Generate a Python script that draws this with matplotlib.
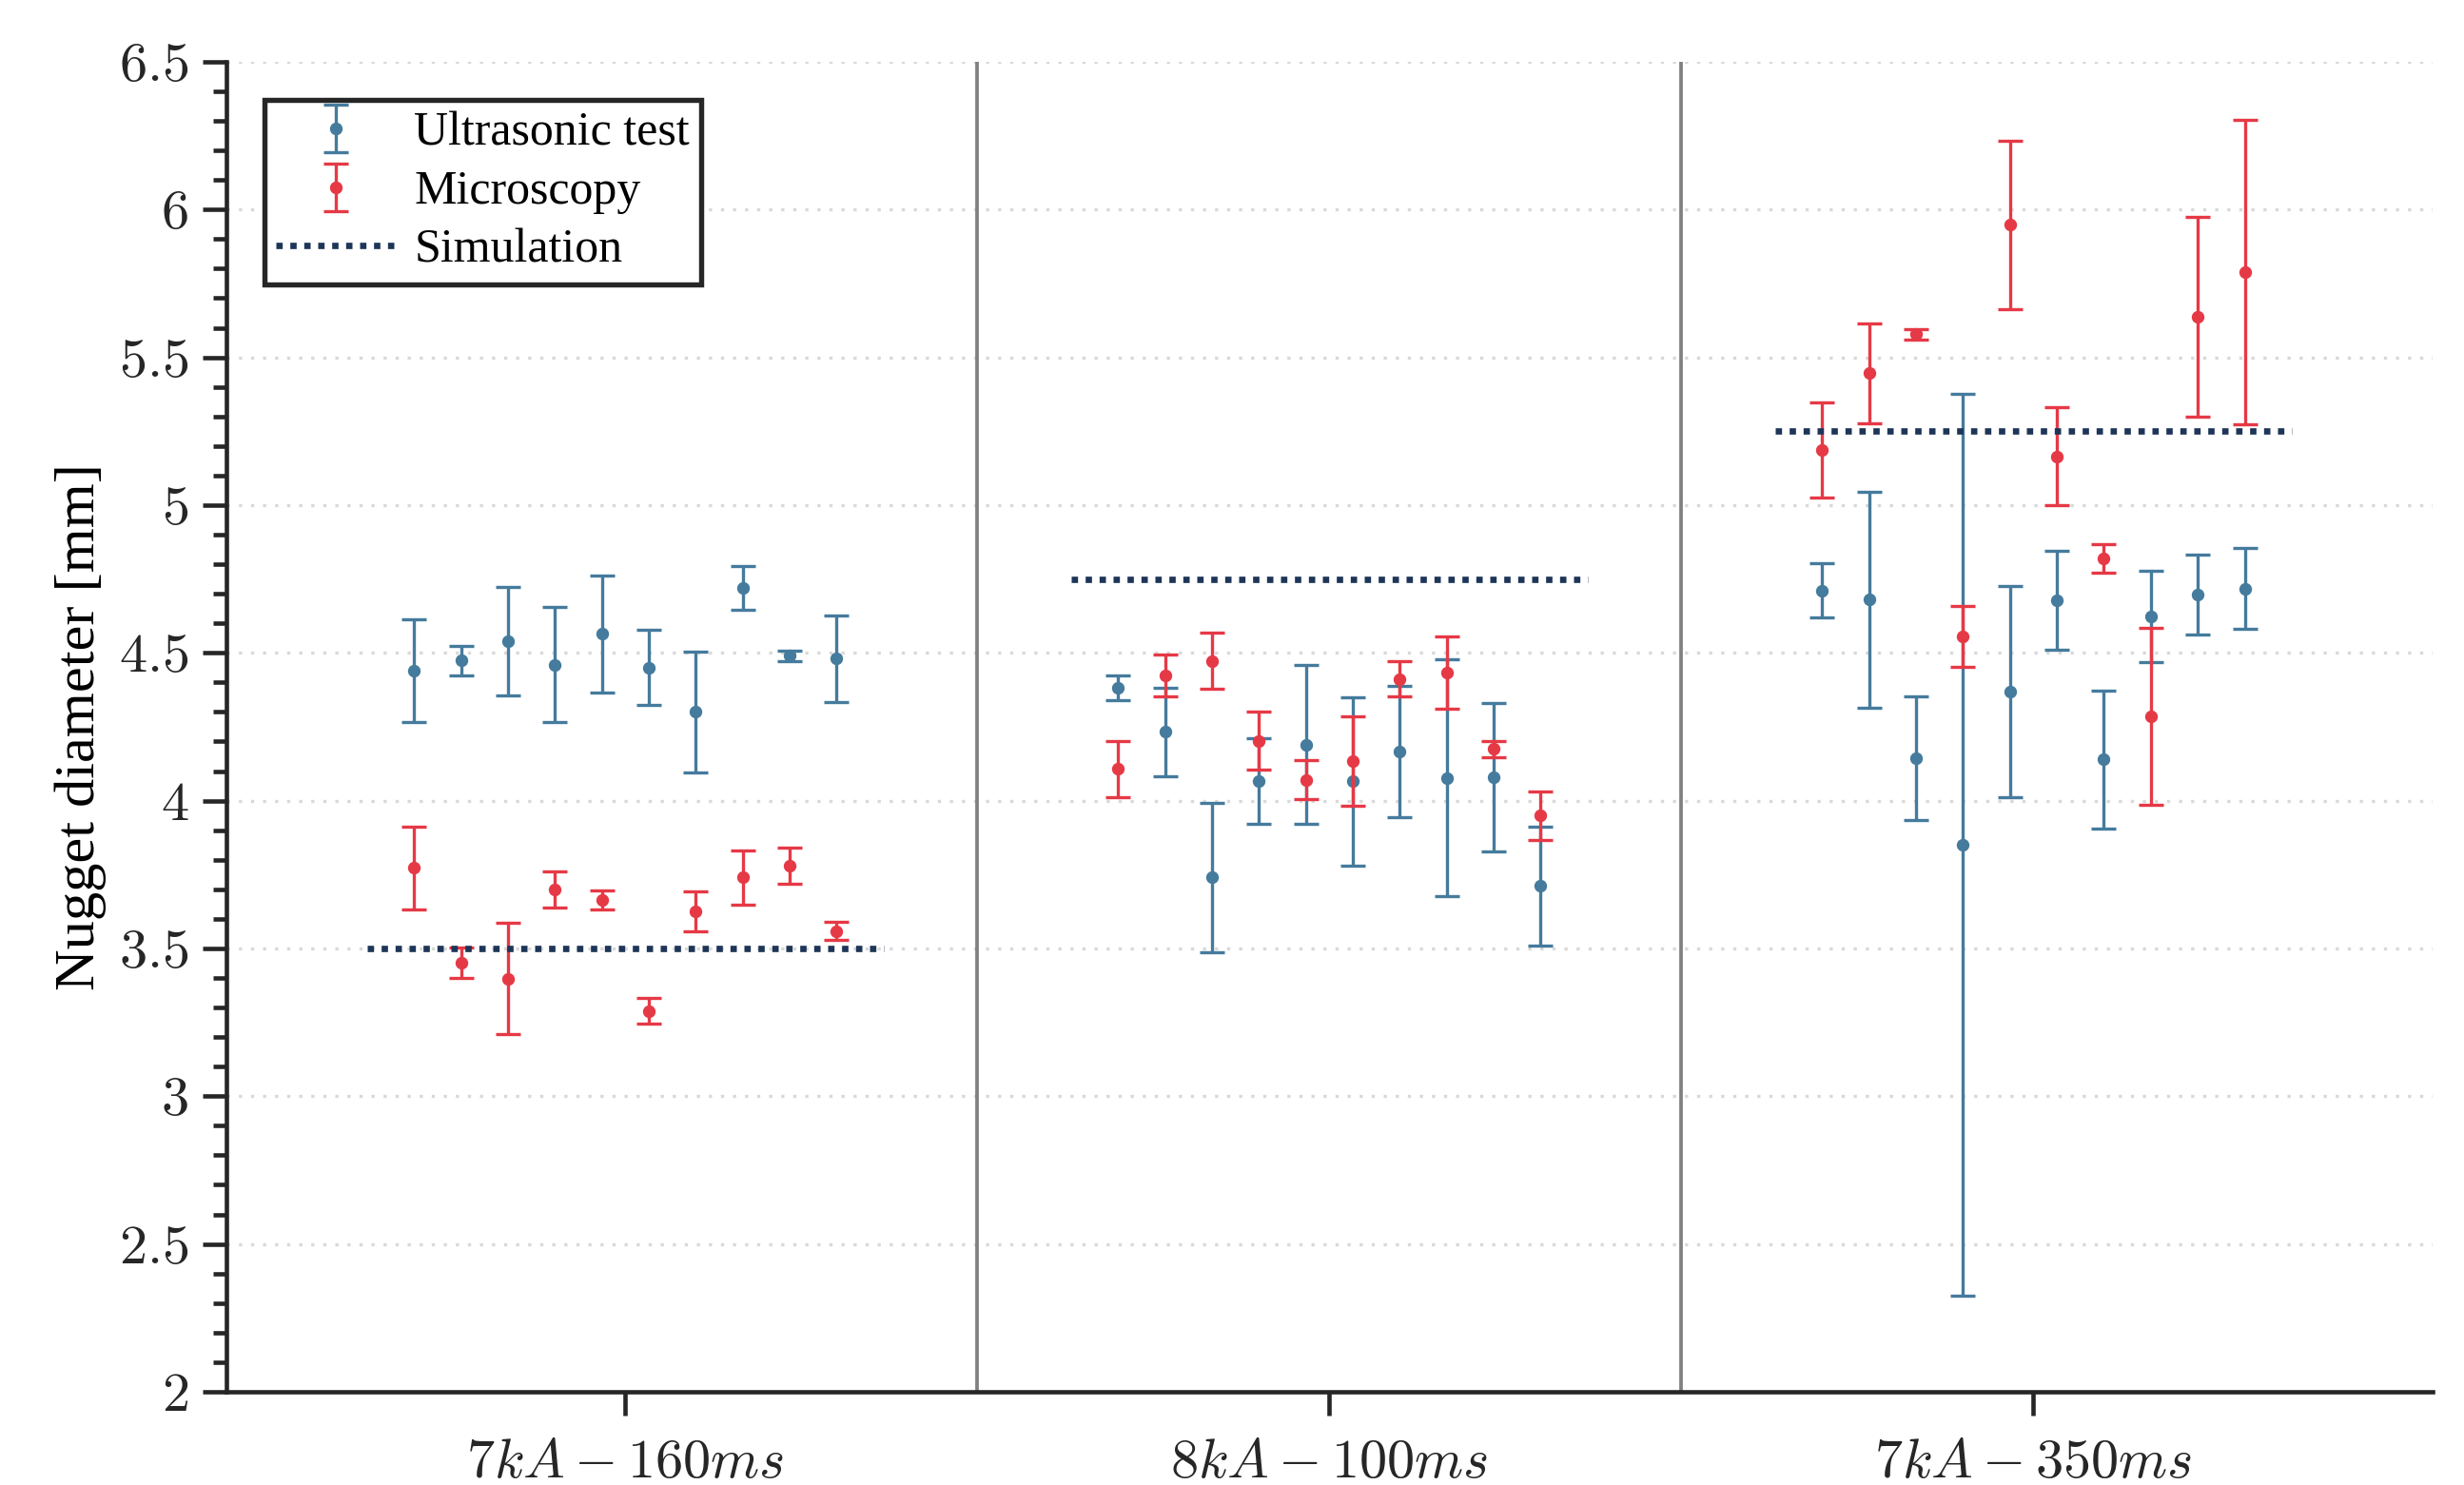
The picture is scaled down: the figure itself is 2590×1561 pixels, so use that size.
import matplotlib
matplotlib.use("Agg")
import matplotlib.pyplot as plt
import numpy as np
from matplotlib.ticker import MultipleLocator, FuncFormatter

plt.rcParams['font.family'] = ['Liberation Serif', 'DejaVu Serif']
plt.rcParams['mathtext.fontset'] = 'cm'

# weld settings (x categories)
groups = ['$7kA - 160ms$', '$8kA - 100ms$', '$7kA - 350ms$']

# ultrasonic test: mean and error per sample
ut_mean_160 = [4.44, 4.475, 4.54, 4.46, 4.565, 4.45, 4.30, 4.72, 4.49, 4.48]
ut_err_160 = [0.173, 0.05, 0.184, 0.195, 0.198, 0.127, 0.205, 0.073, 0.018, 0.147]
ut_mean_100 = [4.383, 4.233, 3.74, 4.066, 4.19, 4.066, 4.166, 4.077, 4.08, 3.711]
ut_err_100 = [0.042, 0.15, 0.252, 0.145, 0.268, 0.285, 0.223, 0.40, 0.251, 0.202]
ut_mean_350 = [4.711, 4.68, 4.144, 3.85, 4.37, 4.677, 4.14, 4.623, 4.697, 4.717]
ut_err_350 = [0.092, 0.366, 0.208, 1.526, 0.357, 0.167, 0.233, 0.155, 0.136, 0.137]

# microscopy: mean and error per sample
mic_mean_160 = [3.772, 3.452, 3.398, 3.70, 3.665, 3.288, 3.626, 3.74, 3.779, 3.559]
mic_err_160 = [0.141, 0.052, 0.189, 0.062, 0.032, 0.043, 0.067, 0.091, 0.061, 0.03]
mic_mean_100 = [4.108, 4.423, 4.473, 4.203, 4.071, 4.134, 4.412, 4.433, 4.175, 3.949]
mic_err_100 = [0.095, 0.07, 0.094, 0.097, 0.066, 0.15, 0.059, 0.122, 0.027, 0.081]
mic_mean_350 = [5.188, 5.446, 5.578, 4.556, 5.948, 5.165, 4.819, 4.285, 5.637, 5.788]
mic_err_350 = [0.161, 0.168, 0.018, 0.102, 0.286, 0.166, 0.048, 0.299, 0.338, 0.514]

# simulated nugget diameter per setting
simulation = [3.5, 4.75, 5.25]

ut_means = [ut_mean_160, ut_mean_100, ut_mean_350]
ut_errs = [ut_err_160, ut_err_100, ut_err_350]
mic_means = [mic_mean_160, mic_mean_100, mic_mean_350]
mic_errs = [mic_err_160, mic_err_100, mic_err_350]

blue = '#457b9d'
red = '#e63946'
navy = '#1d3557'
dark = '#262626'

fig = plt.figure(figsize=(2590 / 300, 1561 / 300), dpi=300)
ax = fig.add_axes([0.0918, 0.0628, 0.8955, 0.8956])

n = len(ut_mean_160)
offsets = np.linspace(-0.3, 0.3, n)
step = offsets[1] - offsets[0]

handles = []
for i in range(len(groups)):
    x = i + 1 + offsets
    h1 = ax.errorbar(x, ut_means[i], yerr=ut_errs[i], fmt='o', color=blue, ms=2.2,
                     elinewidth=0.8, capsize=3.2, capthick=0.8, zorder=3)
    h2 = ax.errorbar(x, mic_means[i], yerr=mic_errs[i], fmt='o', color=red, ms=2.2,
                     elinewidth=0.8, capsize=3.2, capthick=0.8, zorder=4)
    xs = [i + 1 - 0.3 - step, i + 1 + 0.3 + step]
    h3, = ax.plot(xs, [simulation[i]] * 2, color=navy, lw=1.6, dashes=(1, 1.2), zorder=5)
    if i == 0:
        handles = [h1, h2, h3]

# separators between groups
for xv in [1.5, 2.5]:
    ax.axvline(xv, color='#808080', lw=0.9, zorder=1)

ax.set_xlim(0.433, 3.567)
ax.set_ylim(2, 6.5)
ax.set_xticks([1, 2, 3])
ax.set_xticklabels(groups)
ax.yaxis.set_major_locator(MultipleLocator(0.5))
ax.yaxis.set_minor_locator(MultipleLocator(0.1))
ax.yaxis.set_major_formatter(FuncFormatter(lambda v, p: '$%g$' % v))

ax.grid(axis='y', which='major', color='#d9d9d9', lw=0.8, ls=(0, (1, 2.8)), zorder=0)
ax.set_axisbelow(True)

for s in ['top', 'right']:
    ax.spines[s].set_visible(False)
for s in ['left', 'bottom']:
    ax.spines[s].set_linewidth(1.1)
    ax.spines[s].set_color(dark)

ax.tick_params(axis='both', which='major', direction='out', length=6, width=1.1,
               color=dark, labelsize=14, labelcolor=dark)
ax.tick_params(axis='y', which='minor', direction='out', length=3.3, width=1.1, color=dark)
ax.tick_params(axis='x', pad=6)

ax.set_ylabel('Nugget diameter [mm]', fontsize=14.5, labelpad=3)

leg = ax.legend(handles, ['Ultrasonic test', 'Microscopy', 'Simulation'],
                loc='upper left', fontsize=12, frameon=True, fancybox=False,
                framealpha=1, edgecolor=dark, handlelength=2.5,
                labelspacing=0.3, borderaxespad=0.8, borderpad=0.25,
                handletextpad=0.4)
leg.get_frame().set_linewidth(1.3)

fig.savefig('out.png', dpi=300)
